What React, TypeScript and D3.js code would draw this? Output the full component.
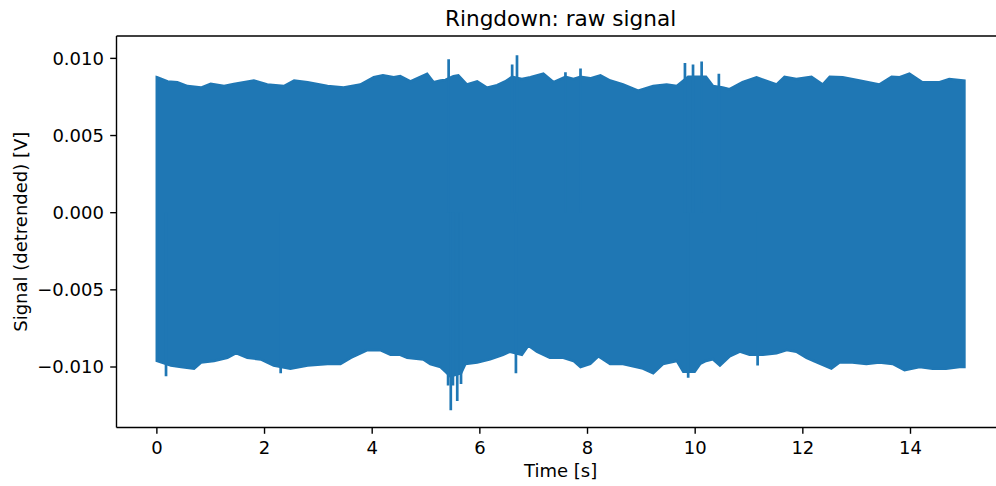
import React from 'react';
import * as d3 from 'd3';

// upper envelope of the ringdown trace
const upperTime = [0, 0.2, 0.38, 0.57, 0.82, 1.0, 1.25, 1.43, 1.8, 2.05, 2.36, 2.55, 2.8, 3.17, 3.47, 3.78, 4.03, 4.2, 4.4, 4.52, 4.71, 5.02, 5.14, 5.27, 5.36, 5.51, 5.6, 5.76, 5.95, 6.13, 6.32, 6.47, 6.6, 6.78, 6.94, 7.18, 7.37, 7.59, 7.74, 7.87, 8.05, 8.24, 8.42, 8.66, 8.94, 9.22, 9.47, 9.66, 9.87, 10.03, 10.2, 10.33, 10.51, 10.64, 10.88, 11.14, 11.51, 11.66, 11.88, 12.16, 12.37, 12.5, 12.74, 13.05, 13.42, 13.65, 13.8, 13.98, 14.22, 14.54, 14.72, 15.0];
const upperValue = [0.00877, 0.0085, 0.00845, 0.0082, 0.0081, 0.00834, 0.0082, 0.00834, 0.00856, 0.0083, 0.0082, 0.00856, 0.00845, 0.0082, 0.0081, 0.0083, 0.00877, 0.0089, 0.00877, 0.00884, 0.0085, 0.009, 0.00845, 0.00856, 0.0086, 0.00884, 0.0089, 0.0083, 0.0085, 0.0081, 0.00826, 0.0085, 0.0088, 0.00866, 0.00877, 0.009, 0.00845, 0.0088, 0.00866, 0.0088, 0.0087, 0.0089, 0.00856, 0.0083, 0.0079, 0.0082, 0.0083, 0.0082, 0.0088, 0.0088, 0.0088, 0.0082, 0.0081, 0.008, 0.00845, 0.00877, 0.0083, 0.0088, 0.00866, 0.0088, 0.0083, 0.0088, 0.00877, 0.00856, 0.0083, 0.0088, 0.00877, 0.009, 0.00845, 0.00845, 0.00866, 0.00856];

// lower envelope
const lowerTime = [0, 0.26, 0.45, 0.69, 0.82, 1.06, 1.31, 1.47, 1.68, 1.93, 2.17, 2.48, 2.8, 3.17, 3.41, 3.6, 3.91, 4.15, 4.34, 4.52, 4.65, 4.95, 5.08, 5.27, 5.36, 5.45, 5.55, 5.65, 5.73, 5.95, 6.19, 6.43, 6.56, 6.78, 6.9, 7.06, 7.3, 7.55, 7.74, 7.87, 8.05, 8.2, 8.42, 8.66, 9.03, 9.22, 9.4, 9.66, 9.78, 9.99, 10.09, 10.2, 10.33, 10.46, 10.64, 10.83, 11.01, 11.26, 11.51, 11.7, 11.88, 12.07, 12.26, 12.53, 12.68, 12.92, 13.18, 13.42, 13.67, 13.89, 14.17, 14.41, 14.66, 14.91, 15.0];
const lowerValue = [-0.0096, -0.0099, -0.01, -0.0101, -0.0097, -0.0096, -0.0094, -0.0091, -0.0094, -0.0095, -0.0099, -0.0101, -0.0099, -0.0098, -0.0098, -0.0094, -0.0089, -0.0089, -0.0092, -0.0092, -0.0094, -0.0095, -0.0098, -0.01, -0.0103, -0.0106, -0.0105, -0.0104, -0.0098, -0.0097, -0.0095, -0.0092, -0.009, -0.0092, -0.0086, -0.009, -0.0094, -0.0094, -0.0096, -0.01, -0.0098, -0.0093, -0.0098, -0.0098, -0.0101, -0.0104, -0.0098, -0.0096, -0.0103, -0.0103, -0.0098, -0.0096, -0.0095, -0.0099, -0.0093, -0.009, -0.0092, -0.0092, -0.0091, -0.0089, -0.009, -0.0094, -0.0097, -0.0101, -0.0097, -0.0097, -0.0098, -0.0097, -0.0098, -0.0102, -0.01, -0.0101, -0.0101, -0.01, -0.01];

// isolated spikes sticking out of the envelope
const spikeTime = [5.42, 6.6, 6.69, 7.59, 7.87, 9.81, 9.96, 10.12, 10.44, 0.17, 2.3, 5.41, 5.46, 5.5, 5.58, 5.65, 6.67, 9.87, 11.16];
const spikeValue = [0.00995, 0.0096, 0.0102, 0.0091, 0.00935, 0.0097, 0.0096, 0.0098, 0.009, -0.0106, -0.0104, -0.0112, -0.0128, -0.0112, -0.0122, -0.0111, -0.0104, -0.0107, -0.0099];

const xTicks = [0, 2, 4, 6, 8, 10, 12, 14];
const yTicks = [-0.01, -0.005, 0, 0.005, 0.01];

const W = 996;
const H = 486;
const FONT = 'DejaVu Sans, sans-serif';
const BLUE = '#1f77b4';

export default function App() {
  const left = 116.5, top = 36, right = 1004.7, bottom = 427.5;
  const tickLen = 6.3;

  const x = d3.scaleLinear().domain([-0.75, 15.75]).range([left, right]);
  const y = d3.scaleLinear().domain([-0.01392, 0.01145]).range([bottom, top]);

  const upperPts: [number, number][] = upperTime.map((t, i) => [t, upperValue[i]]);
  const lowerPts: [number, number][] = lowerTime.map((t, i) => [t, lowerValue[i]]);
  const ring = upperPts.concat(lowerPts.slice().reverse());
  const line = d3.line<[number, number]>().x(d => x(d[0])).y(d => y(d[1]));
  const envPath = line(ring) + 'Z';

  const fmt = (v: number) => d3.format('.3f')(v).replace('-', '\u2212');

  return (
    <div style={{ position: 'absolute', left: 0, top: 0 }}>
      <svg width={W} height={H} style={{ display: 'block', background: '#fff' }} fontFamily={FONT}>
        <defs>
          <clipPath id="plotclip">
            <rect x={left} y={top} width={right - left} height={bottom - top} />
          </clipPath>
        </defs>

        <g clipPath="url(#plotclip)">
          <path d={envPath} fill={BLUE} stroke={BLUE} strokeWidth={2.7} strokeLinejoin="miter" />
          {spikeTime.map((t, i) => (
            <line key={i} x1={x(t)} x2={x(t)} y1={y(0)} y2={y(spikeValue[i])}
              stroke={BLUE} strokeWidth={2.7} />
          ))}
        </g>

        {/* spines */}
        <g fill="none" stroke="#000" strokeWidth={1.4}>
          <line x1={left} x2={left} y1={top} y2={bottom} />
          <line x1={left} x2={right} y1={bottom} y2={bottom} />
          <line x1={left} x2={right} y1={top} y2={top} />
          <line x1={right} x2={right} y1={top} y2={bottom} />
        </g>

        {/* x axis */}
        {xTicks.map(t => (
          <g key={t} transform={`translate(${x(t)},${bottom})`}>
            <line y1={0} y2={tickLen} stroke="#000" strokeWidth={1.4} />
            <text y={26} textAnchor="middle" fontSize={18} fill="#000">{t}</text>
          </g>
        ))}
        <text x={(left + right) / 2} y={477} textAnchor="middle" fontSize={18}>Time [s]</text>

        {/* y axis */}
        {yTicks.map(v => (
          <g key={v} transform={`translate(${left},${y(v)})`}>
            <line x1={0} x2={-tickLen} stroke="#000" strokeWidth={1.4} />
            <text x={-12.6} dy="0.36em" textAnchor="end" fontSize={18} fill="#000">{fmt(v)}</text>
          </g>
        ))}
        <text transform={`translate(27,${(top + bottom) / 2}) rotate(-90)`} textAnchor="middle" fontSize={18}>
          Signal (detrended) [V]
        </text>

        <text x={(left + right) / 2} y={26} textAnchor="middle" fontSize={21.6}>Ringdown: raw signal</text>
      </svg>
    </div>
  );
}
